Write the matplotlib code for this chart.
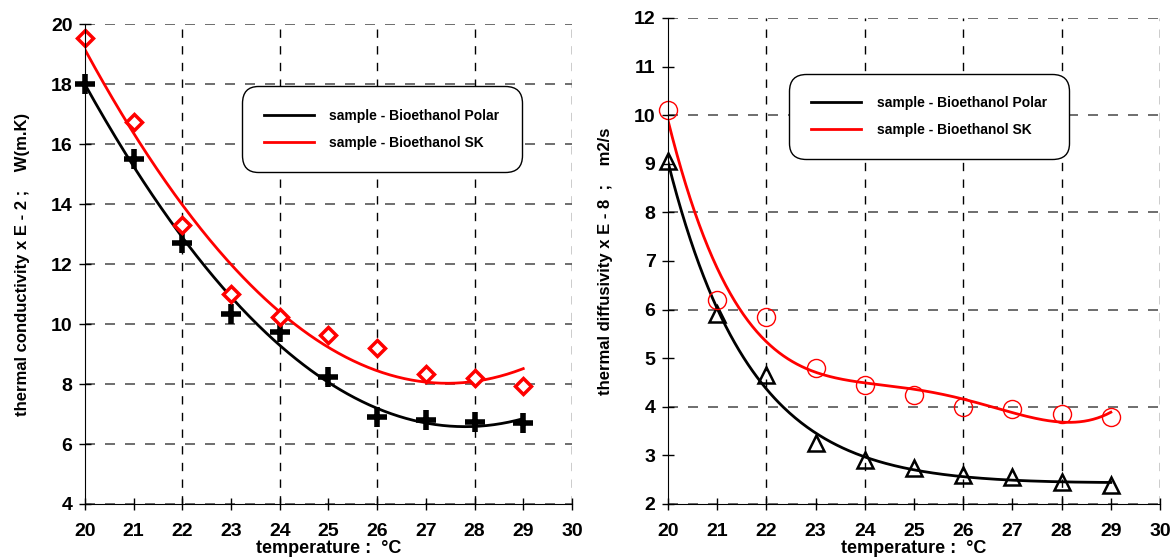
import numpy as np
import matplotlib
matplotlib.use("Agg")
import matplotlib.pyplot as plt

plt.rcParams['font.family'] = ['Liberation Sans', 'DejaVu Sans']
plt.rcParams['font.weight'] = 'bold'

temps = [20, 21, 22, 23, 24, 25, 26, 27, 28, 29]
cond_polar = [18.0, 15.5, 12.7, 10.35, 9.75, 8.25, 6.9, 6.8, 6.75, 6.7]
cond_sk = [19.55, 16.75, 13.3, 11.0, 10.25, 9.65, 9.2, 8.35, 8.2, 7.95]
diff_polar = [9.05, 5.9, 4.65, 3.25, 2.9, 2.75, 2.6, 2.55, 2.45, 2.4]
diff_sk = [10.1, 6.2, 5.85, 4.8, 4.45, 4.25, 4.0, 3.95, 3.85, 3.8]
legend_labels = ["sample - Bioethanol Polar", "sample - Bioethanol SK"]

fig = plt.figure(figsize=(11.72, 5.58), dpi=100)
ax1 = fig.add_axes([0.0725, 0.0968, 0.4155, 0.860])
ax2 = fig.add_axes([0.570, 0.0968, 0.4198, 0.871])

t = np.array(temps, dtype=float)
xs = np.linspace(20, 29, 300)


def fit_exp_poly(x, y, deg):
    """Least-squares fit of a*exp(-b*(x-20)) + poly(deg), best b by grid search."""
    y = np.asarray(y, dtype=float)
    best = None
    for b in np.linspace(0.3, 4.0, 400):
        A = np.column_stack([np.exp(-b * (x - 20))] + [(x - 20) ** k for k in range(deg + 1)])
        coef, *_ = np.linalg.lstsq(A, y, rcond=None)
        err = np.sum((A @ coef - y) ** 2)
        if best is None or err < best[0]:
            best = (err, b, coef)
    _, b, coef = best
    A = np.column_stack([np.exp(-b * (xs - 20))] + [(xs - 20) ** k for k in range(deg + 1)])
    return A @ coef


def style(ax, ylim, yticks, ygrid, ylabel, ylabel_x):
    ax.set_xlim(20, 30)
    ax.set_ylim(*ylim)
    ax.set_xticks(range(20, 31))
    ax.set_yticks(yticks)
    ax.tick_params(direction='inout', length=8, width=1, labelsize=14)
    ax.tick_params(axis='x', pad=10)
    ax.tick_params(axis='y', pad=5)
    for lab in ax.get_xticklabels() + ax.get_yticklabels():
        lab.set_fontweight('bold')
    for s in ['top', 'right']:
        ax.spines[s].set_visible(False)
    for xv in [22, 24, 26, 28, 30]:
        ax.axvline(xv, color='black', ls=(0, (6, 6)), lw=1, zorder=0)
    for yv in ygrid:
        ax.axhline(yv, color='#555555', ls=(0, (6, 6)), lw=1.2, zorder=0)
    ax.set_ylabel(ylabel, fontsize=12, fontweight='bold')
    ax.yaxis.set_label_coords(ylabel_x, 0.5)
    ax.yaxis.label.set_va('center')
    ax.set_xlabel("temperature :  \u00b0C", fontsize=13, fontweight='bold')
    ax.xaxis.set_label_coords(0.5, -0.092)
    ax.xaxis.label.set_va('center')


def add_legend(ax, handles, anchor):
    leg = ax.legend(handles, legend_labels, loc='upper left', bbox_to_anchor=anchor,
                    prop={'weight': 'bold', 'size': 10}, frameon=True, fancybox=True,
                    borderpad=1.6, handlelength=3.6, handletextpad=1.1, labelspacing=0.95,
                    borderaxespad=0, framealpha=1)
    fr = leg.get_frame()
    fr.set_edgecolor('black')
    fr.set_linewidth(1)
    fr.set_boxstyle('round,pad=0.,rounding_size=1.2')
    return leg


# Left chart: quadratic fits
style(ax1, (4, 20), range(4, 21, 2), range(4, 21, 2),
      "thermal conductivity x E - 2 ;    W(m.K)", -0.128)
p1 = np.polyfit(t, cond_polar, 2)
p2 = np.polyfit(t, cond_sk, 2)
l1, = ax1.plot(xs, np.polyval(p1, xs), color='black', lw=2)
l2, = ax1.plot(xs, np.polyval(p2, xs), color='red', lw=2)
ax1.plot(temps, cond_polar, ls='none', marker='+', ms=15, mew=4, color='black', clip_on=False)
ax1.plot(temps, cond_sk, ls='none', marker='D', ms=8, mew=2.5, mfc='white', mec='red', clip_on=False)
add_legend(ax1, [l1, l2], (0.322, 0.87))

# Right chart
style(ax2, (2, 12), range(2, 13), range(2, 13, 2),
      "thermal diffusivity x E - 8  ;    m2/s", -0.127)
r1, = ax2.plot(xs, fit_exp_poly(t, diff_polar, 1), color='black', lw=2)
r2, = ax2.plot(xs, np.polyval(np.polyfit(t, diff_sk, 4), xs), color='red', lw=2)
ax2.plot(temps, diff_polar, ls='none', marker='^', ms=12, mew=1.8, mfc='none', mec='black', clip_on=False)
ax2.plot(temps, diff_sk, ls='none', marker='o', ms=13, mew=1, mfc='none', mec='red', clip_on=False)
add_legend(ax2, [r1, r2], (0.246, 0.885))

fig.savefig("out.png", dpi=100)
